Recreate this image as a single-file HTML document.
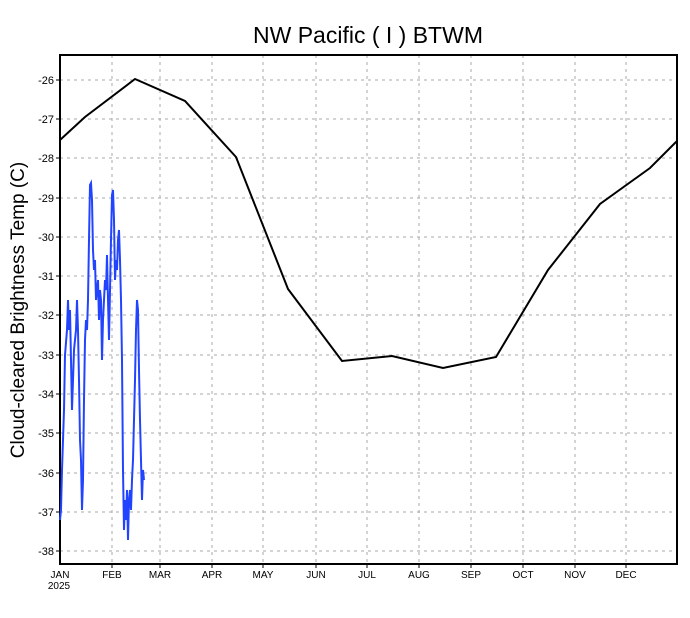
<!DOCTYPE html>
<html><head><style>body{margin:0;background:#fff}svg{display:block}text{font-family:"Liberation Sans",sans-serif}</style></head><body>
<svg width="690" height="618" viewBox="0 0 690 618">
<text x="368" y="43" font-size="23" text-anchor="middle">NW Pacific ( I ) BTWM</text>
<text transform="translate(24,310) rotate(-90)" font-size="19" text-anchor="middle">Cloud-cleared Brightness Temp (C)</text>
<g stroke="#aaa" stroke-dasharray="3,4" stroke-width="1">
<line x1="60" x2="677" y1="80" y2="80"/><line x1="60" x2="677" y1="119" y2="119"/><line x1="60" x2="677" y1="158" y2="158"/><line x1="60" x2="677" y1="198" y2="198"/><line x1="60" x2="677" y1="237" y2="237"/><line x1="60" x2="677" y1="276" y2="276"/><line x1="60" x2="677" y1="315" y2="315"/><line x1="60" x2="677" y1="355" y2="355"/><line x1="60" x2="677" y1="394" y2="394"/><line x1="60" x2="677" y1="433" y2="433"/><line x1="60" x2="677" y1="473" y2="473"/><line x1="60" x2="677" y1="512" y2="512"/><line x1="60" x2="677" y1="551" y2="551"/>
<line y1="55" y2="564" x1="112" x2="112"/><line y1="55" y2="564" x1="160" x2="160"/><line y1="55" y2="564" x1="212" x2="212"/><line y1="55" y2="564" x1="263" x2="263"/><line y1="55" y2="564" x1="316" x2="316"/><line y1="55" y2="564" x1="367" x2="367"/><line y1="55" y2="564" x1="419" x2="419"/><line y1="55" y2="564" x1="471" x2="471"/><line y1="55" y2="564" x1="523" x2="523"/><line y1="55" y2="564" x1="575" x2="575"/><line y1="55" y2="564" x1="626" x2="626"/>
</g>
<g stroke="#000" stroke-width="1">
<line x1="56" x2="60" y1="80" y2="80"/><line x1="56" x2="60" y1="119" y2="119"/><line x1="56" x2="60" y1="158" y2="158"/><line x1="56" x2="60" y1="198" y2="198"/><line x1="56" x2="60" y1="237" y2="237"/><line x1="56" x2="60" y1="276" y2="276"/><line x1="56" x2="60" y1="315" y2="315"/><line x1="56" x2="60" y1="355" y2="355"/><line x1="56" x2="60" y1="394" y2="394"/><line x1="56" x2="60" y1="433" y2="433"/><line x1="56" x2="60" y1="473" y2="473"/><line x1="56" x2="60" y1="512" y2="512"/><line x1="56" x2="60" y1="551" y2="551"/>
<line y1="564" y2="568" x1="112" x2="112"/><line y1="564" y2="568" x1="160" x2="160"/><line y1="564" y2="568" x1="212" x2="212"/><line y1="564" y2="568" x1="263" x2="263"/><line y1="564" y2="568" x1="316" x2="316"/><line y1="564" y2="568" x1="367" x2="367"/><line y1="564" y2="568" x1="419" x2="419"/><line y1="564" y2="568" x1="471" x2="471"/><line y1="564" y2="568" x1="523" x2="523"/><line y1="564" y2="568" x1="575" x2="575"/><line y1="564" y2="568" x1="626" x2="626"/>
</g>
<rect x="60" y="55" width="617" height="509" fill="none" stroke="#000" stroke-width="2"/>
<g font-size="11" text-anchor="end">
<text x="54" y="84">-26</text><text x="54" y="123">-27</text><text x="54" y="162">-28</text><text x="54" y="202">-29</text><text x="54" y="241">-30</text><text x="54" y="280">-31</text><text x="54" y="319">-32</text><text x="54" y="359">-33</text><text x="54" y="398">-34</text><text x="54" y="437">-35</text><text x="54" y="477">-36</text><text x="54" y="516">-37</text><text x="54" y="555">-38</text>
</g>
<g font-size="10" text-anchor="middle">
<text x="60" y="578">JAN</text><text x="59" y="589">2025</text><text x="112" y="578">FEB</text><text x="160" y="578">MAR</text><text x="212" y="578">APR</text><text x="263" y="578">MAY</text><text x="316" y="578">JUN</text><text x="367" y="578">JUL</text><text x="419" y="578">AUG</text><text x="471" y="578">SEP</text><text x="523" y="578">OCT</text><text x="575" y="578">NOV</text><text x="626" y="578">DEC</text>
</g>
<polyline fill="none" stroke="#000" stroke-width="2" points="60,140 85,117 135,79 185,101 236,157 288,289 342,361 392,356 443,368 496,357 548,270 600,204 650,168 677,141"/>
<polyline fill="none" stroke="#2244ff" stroke-width="2" points="60,520 61,510 62,470 64,410 65,355 67,330 68,300 69,330 70,310 71,360 72,410 73,380 74,350 76,330 77,300 78,330 79,380 80,440 81,460 82,510 83,480 84,400 85,340 86,320 87,330 88,300 89,240 90,185 91,183 92,200 93,250 94,270 95,260 96,300 97,290 98,280 99,320 100,290 101,300 102,360 103,320 104,300 105,280 106,290 107,255 108,300 109,340 110,290 111,240 112,195 113,190 114,220 115,280 116,260 117,270 118,240 119,230 120,260 121,300 122,360 123,470 124,530 125,500 126,520 127,490 128,540 129,500 130,490 131,510 132,480 133,460 134,420 135,380 136,330 137,300 138,310 139,370 140,420 141,460 142,500 143,470 144,480"/>
</svg>
</body></html>
